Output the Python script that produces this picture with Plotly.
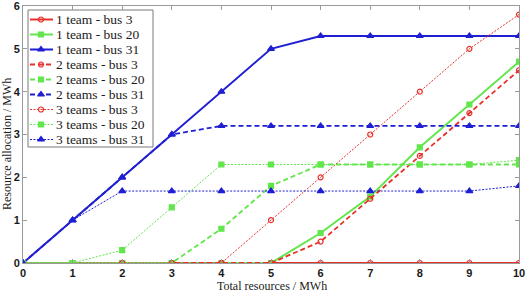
import plotly.graph_objects as go

x = [0, 1, 2, 3, 4, 5, 6, 7, 8, 9, 10]

t1_bus3 = [0, 0, 0, 0, 0, 0, 0, 0, 0, 0, 0]
t1_bus20 = [0, 0, 0, 0, 0, 0, 0.7, 1.55, 2.7, 3.7, 4.7]
t1_bus31 = [0, 1, 2, 3, 4, 5, 5.3, 5.3, 5.3, 5.3, 5.3]
t2_bus3 = [0, 0, 0, 0, 0, 0, 0.5, 1.5, 2.5, 3.5, 4.5]
t2_bus20 = [0, 0, 0, 0, 0.8, 1.8, 2.3, 2.3, 2.3, 2.3, 2.3]
t2_bus31 = [0, 1, 2, 3, 3.2, 3.2, 3.2, 3.2, 3.2, 3.2, 3.2]
t3_bus3 = [0, 0, 0, 0, 0, 1.0, 2.0, 3.0, 4.0, 5.0, 5.8]
t3_bus20 = [0, 0, 0.3, 1.3, 2.3, 2.3, 2.3, 2.3, 2.3, 2.3, 2.4]
t3_bus31 = [0, 1, 1.68, 1.68, 1.68, 1.68, 1.68, 1.68, 1.68, 1.68, 1.8]

names = ["1 team - bus 3", "1 team - bus 20", "1 team - bus 31",
         "2 teams - bus 3", "2 teams - bus 20", "2 teams - bus 31",
         "3 teams - bus 3", "3 teams - bus 20", "3 teams - bus 31"]

x_title = "Total resources / MWh"
y_title = "Resource allocation / MWh"

RED = "#e8302a"
GREEN = "#62e64c"
BLUE = "#1f1fd2"

series = [t1_bus3, t1_bus20, t1_bus31, t2_bus3, t2_bus20, t2_bus31, t3_bus3, t3_bus20, t3_bus31]
colors = [RED, GREEN, BLUE] * 3
symbols = ["circle-open", "square", "triangle-up"] * 3
msizes = [5, 5, 6] * 3
dashes = ["solid"] * 3 + ["5px,3px"] * 3 + ["2px,1.5px"] * 3
widths = [2, 2, 2, 1.8, 1.8, 1.8, 1, 1, 1]

# figure geometry (pixels)
W, H = 526, 292
ML, MR, MT, MB = 23, 7, 6, 29
PX0, PX1 = ML, W - MR
PY0, PY1 = MT, H - MB


def px_to_paper_x(px):
    return (px - PX0) / (PX1 - PX0)


def px_to_paper_y(py):
    return (PY1 - py) / (PY1 - PY0)


fig = go.Figure()
for name, ys, c, s, ms, d, w in zip(names, series, colors, symbols, msizes, dashes, widths):
    fig.add_trace(go.Scatter(
        x=x, y=ys, name=name, mode="lines+markers", showlegend=False,
        line=dict(color=c, dash=d, width=w),
        marker=dict(symbol=s, size=ms, color=c, line=dict(color=c, width=1.2)),
        xaxis="x", yaxis="y",
    ))

# compact legend drawn on a pixel-coordinate overlay axis
LEG_L, LEG_R, LEG_T, LEG_B = 28, 153, 10, 147
ROW0, ROW_STEP = 19.5, 15
SAMPLE_X0, SAMPLE_X1, SAMPLE_MX, TEXT_X = 30, 53, 41, 53.5

fig.add_trace(go.Scatter(
    x=[LEG_L, LEG_R, LEG_R, LEG_L, LEG_L], y=[LEG_T, LEG_T, LEG_B, LEG_B, LEG_T],
    mode="lines", fill="toself", fillcolor="white",
    line=dict(color="#7a7a7a", width=1), hoverinfo="skip", showlegend=False,
    xaxis="x2", yaxis="y2",
))
annotations = []
for i, (name, c, s, ms, d, w) in enumerate(zip(names, colors, symbols, msizes, dashes, widths)):
    ry = ROW0 + i * ROW_STEP
    fig.add_trace(go.Scatter(
        x=[SAMPLE_X0, SAMPLE_X1], y=[ry, ry], mode="lines",
        line=dict(color=c, dash=d, width=w), hoverinfo="skip", showlegend=False,
        xaxis="x2", yaxis="y2",
    ))
    fig.add_trace(go.Scatter(
        x=[SAMPLE_MX], y=[ry], mode="markers",
        marker=dict(symbol=s, size=ms, color=c, line=dict(color=c, width=1.2)),
        hoverinfo="skip", showlegend=False, xaxis="x2", yaxis="y2",
    ))
    annotations.append(dict(
        text=name, x=px_to_paper_x(TEXT_X), y=px_to_paper_y(ry), xref="paper", yref="paper",
        xanchor="left", yanchor="middle", showarrow=False,
        font=dict(family="Liberation Serif", size=13.5, color="#1a1a1a"),
    ))

annotations.append(dict(
    text=x_title, x=px_to_paper_x(272), y=px_to_paper_y(286), xref="paper", yref="paper",
    xanchor="center", yanchor="middle", showarrow=False,
    font=dict(family="Liberation Serif", size=12, color="#1a1a1a"),
))
annotations.append(dict(
    text=y_title, x=px_to_paper_x(7), y=px_to_paper_y(144), xref="paper", yref="paper",
    textangle=-90, xanchor="center", yanchor="middle", showarrow=False,
    font=dict(family="Liberation Serif", size=12, color="#1a1a1a"),
))

axis_common = dict(
    showgrid=False, zeroline=False, showline=True, linecolor="#9a9a9a", linewidth=1,
    mirror="ticks", ticks="inside", ticklen=4, tickcolor="#9a9a9a", automargin=False,
    ticklabeloverflow="allow",
    tickfont=dict(family="Liberation Sans", size=11, color="#1a1a1a", weight="bold"),
)

fig.update_layout(
    width=W, height=H,
    margin=dict(l=ML, r=MR, t=MT, b=MB),
    paper_bgcolor="white", plot_bgcolor="white",
    xaxis=dict(range=[0, 10], dtick=1, **axis_common),
    yaxis=dict(range=[0, 6], dtick=1, **axis_common),
    xaxis2=dict(range=[PX0, PX1], overlaying="x", visible=False, fixedrange=True),
    yaxis2=dict(range=[PY1, PY0], overlaying="y", visible=False, fixedrange=True),
    annotations=annotations,
    showlegend=False,
)

fig.write_html(
    "out.html",
    config={"displayModeBar": False},
    post_script="document.body.style.margin='0';document.body.style.padding='0';",
)
